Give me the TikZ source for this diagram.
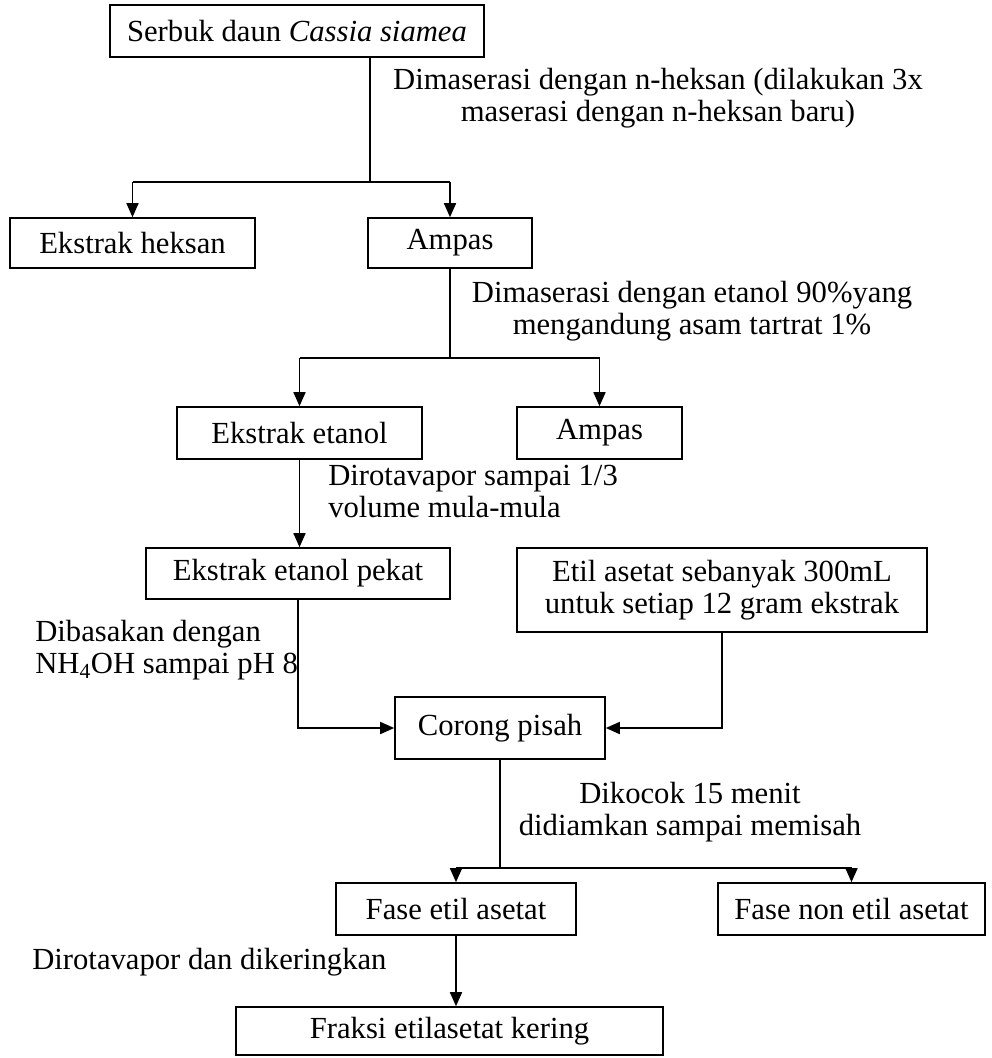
\documentclass[tikz,border=0pt]{standalone}
\usepackage{fontspec}
\setmainfont{Liberation Serif}
\usetikzlibrary{arrows.meta}
\begin{document}
\begin{tikzpicture}[x=0.75pt,y=-0.75pt,
  font=\fontsize{23}{24}\selectfont,
  stepbox/.style 2 args={draw, line width=1.2pt, inner sep=0pt, align=center,
    minimum width=#1*0.75pt, minimum height=#2*0.75pt},
  note/.style={inner sep=0pt},
  link/.style={line width=1.2pt},
  arr/.style={link, -{Triangle[length=10.5pt,width=9pt]}}]
\useasboundingbox (0,0) rectangle (992,1058);

% process boxes
\node[stepbox={374}{52}] (serbuk)   at (297,31)    {Serbuk daun \textit{Cassia siamea}};
\node[stepbox={245}{50}] (heksan)   at (132.5,243) {Ekstrak heksan};
\node[stepbox={164}{50}] (ampasA)   at (450,243)   {Ampas};
\node[stepbox={245}{52}] (etanol)   at (299.5,433) {Ekstrak etanol};
\node[stepbox={165}{52}] (ampasB)   at (599.5,433) {Ampas};
\node[stepbox={304}{51}] (pekat)    at (298,573.5) {Ekstrak etanol pekat};
\node[stepbox={410}{84}] (etil)     at (722,590)   {Etil asetat sebanyak 300mL\\untuk setiap 12 gram ekstrak};
\node[stepbox={210}{62}] (corong)   at (500,728)   {Corong pisah};
\node[stepbox={240}{52}] (faseetil) at (456,909)   {Fase etil asetat};
\node[stepbox={267}{52}] (fasenon)  at (851.5,909) {Fase non etil asetat};
\node[stepbox={427}{48}] (fraksi)   at (449.5,1031){Fraksi etilasetat kering};

% step descriptions
\node[note, align=center] (lab1) at (658,98)
  {Dimaserasi dengan n-heksan (dilakukan 3x\\maserasi dengan n-heksan baru)};
\node[note, align=center] (lab2) at (692,311)
  {Dimaserasi dengan etanol 90\%yang\\mengandung asam tartrat 1\%};
\node[note, align=left, anchor=west] (lab3) at (328,491)
  {Dirotavapor sampai 1/3\\volume mula-mula};
\node[note, align=left, anchor=west] (lab4) at (35,650)
  {Dibasakan dengan\\NH\textsubscript{4}OH sampai pH 8};
\node[note, align=center] (lab5) at (690,812)
  {Dikocok 15 menit\\didiamkan sampai memisah};
\node[note, anchor=west] (lab6) at (32,962) {Dirotavapor dan dikeringkan};

% junction points of the branching lines
\coordinate (j1) at (370,182);
\coordinate (j2) at (450,358);
\coordinate (j3) at (500,868);

% maceration with hexane
\draw[link] (serbuk.south -| j1) -- (j1);
\draw[link] (heksan.north |- j1) -- (ampasA.north |- j1);
\draw[arr] (heksan.north |- j1) -- (heksan.north);
\draw[arr] (ampasA.north |- j1) -- (ampasA.north);

% maceration with ethanol
\draw[link] (ampasA.south) -- (j2);
\draw[link] (etanol.north |- j2) -- (ampasB.north |- j2);
\draw[arr] (etanol.north |- j2) -- (etanol.north);
\draw[arr] (ampasB.north |- j2) -- (ampasB.north);

% concentration and partition
\draw[arr] (etanol.south) -- (etanol.south |- pekat.north);
\draw[arr] (pekat.south) |- (corong.west);
\draw[arr] (etil.south) |- (corong.east);

% phase separation
\draw[link] (corong.south) -- (j3);
\draw[link] (faseetil.north |- j3) -- (fasenon.north |- j3);
\draw[arr] (faseetil.north |- j3) -- (faseetil.north);
\draw[arr] (fasenon.north |- j3) -- (fasenon.north);
\draw[arr] (faseetil.south) -- (faseetil.south |- fraksi.north);
\end{tikzpicture}
\end{document}
